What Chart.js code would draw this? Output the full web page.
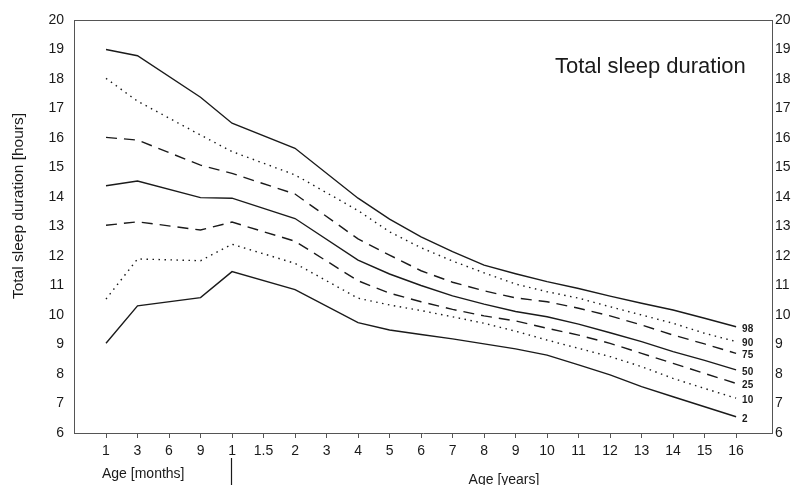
<!DOCTYPE html>
<html>
<head>
<meta charset="utf-8">
<script src="https://cdn.jsdelivr.net/npm/chart.js@4.4.0/dist/chart.umd.min.js"></script>
<style>
  html, body { margin: 0; padding: 0; background: #fff; }
</style>
</head>
<body>
<canvas id="chartSleep" width="795" height="485"></canvas>
<script>
// x categories: 1,3,6,9 months then 1 .. 16 years
const ageLabels = ["1", "3", "6", "9", "1", "1.5", "2", "3", "4", "5", "6", "7", "8",
                   "9", "10", "11", "12", "13", "14", "15", "16"];

// percentile curves (hours), null = no value at that age
const p98 = [19.0, 18.79, null, 17.38, 16.5, null, 15.65, null, 13.96, 13.25, 12.65, 12.15, 11.69, 11.4, 11.13, 10.9, 10.64, 10.4, 10.17, 9.89, 9.6];
const p90 = [18.02, 17.25, null, 16.1, 15.54, null, 14.75, null, 13.54, 12.82, 12.28, 11.83, 11.43, 11.05, 10.79, 10.57, 10.28, 10.0, 9.72, 9.38, 9.1];
const p75 = [16.02, 15.93, null, 15.08, 14.8, null, 14.1, null, 12.58, 12.03, 11.5, 11.11, 10.82, 10.58, 10.45, 10.23, 9.97, 9.66, 9.32, 9.02, 8.7];
const p50 = [14.38, 14.54, null, 13.98, 13.96, null, 13.27, null, 11.86, 11.39, 11.0, 10.65, 10.37, 10.12, 9.94, 9.69, 9.4, 9.1, 8.76, 8.46, 8.14];
const p25 = [13.04, 13.16, null, 12.88, 13.15, null, 12.5, null, 11.16, 10.74, 10.45, 10.19, 9.97, 9.8, 9.55, 9.32, 9.04, 8.7, 8.36, 8.02, 7.68];
const p10 = [10.54, 11.9, null, 11.84, 12.4, null, 11.75, null, 10.57, 10.34, 10.15, 9.94, 9.72, 9.45, 9.15, 8.87, 8.59, 8.25, 7.85, 7.51, 7.18];
const p2  = [9.04, 10.31, null, 10.59, 11.47, null, 10.86, null, 9.74, 9.49, 9.34, 9.19, 9.02, 8.85, 8.64, 8.31, 7.97, 7.57, 7.23, 6.89, 6.55];

const pctNames = ["98", "90", "75", "50", "25", "10", "2"];
const pctSeries = [p98, p90, p75, p50, p25, p10, p2];
const pctDash = [[], [1.5, 4.5], [11, 7], [], [11, 7], [1.5, 4.5], []];

const FONT = "'Liberation Sans', Arial, Helvetica, sans-serif";
const INK = "#1a1a1a";
const AXIS = "#555";

// frame top line, end labels, axis captions and title
const extras = {
    id: "extras",
    afterDatasetsDraw(chart) {
        const ctx = chart.ctx;
        const a = chart.chartArea;
        ctx.save();
        ctx.strokeStyle = AXIS;
        ctx.lineWidth = 1;
        ctx.beginPath();
        ctx.moveTo(a.left, a.top + 0.5);
        ctx.lineTo(a.right, a.top + 0.5);
        ctx.stroke();

        ctx.fillStyle = INK;
        ctx.font = "bold 10px " + FONT;
        ctx.textBaseline = "middle";
        ctx.textAlign = "left";
        chart.data.datasets.forEach((ds, i) => {
            const pts = chart.getDatasetMeta(i).data;
            const last = pts[pts.length - 1];
            ctx.fillText(pctNames[i], last.x + 6, last.y + 2);
        });

        ctx.font = "22px " + FONT;
        ctx.textBaseline = "alphabetic";
        ctx.fillText("Total sleep duration", 555, 73);

        ctx.font = "14px " + FONT;
        ctx.textBaseline = "middle";
        ctx.fillText("Age [months]", 102, 474);
        ctx.textAlign = "center";
        ctx.fillText("Age [years]", 504, 480);

        // y axis caption
        ctx.save();
        ctx.translate(19, 206);
        ctx.rotate(-Math.PI / 2);
        ctx.font = "15.5px " + FONT;
        ctx.fillText("Total sleep duration [hours]", 0, 0);
        ctx.restore();

        ctx.strokeStyle = INK;
        ctx.lineWidth = 1.2;
        ctx.beginPath();
        ctx.moveTo(231.5, 458);
        ctx.lineTo(231.5, 485);
        ctx.stroke();
        ctx.restore();
    }
};

new Chart(document.getElementById("chartSleep"), {
    type: "line",
    data: {
        datasets: pctSeries.map((s, i) => ({
            label: pctNames[i],
            data: s.map((v, k) => ({ x: k, y: v })),
            borderColor: INK,
            borderWidth: 1.4,
            borderDash: pctDash[i],
            pointRadius: 0,
            tension: 0,
            spanGaps: true
        }))
    },
    options: {
        responsive: false,
        devicePixelRatio: 1,
        animation: false,
        layout: { padding: { top: 20, left: 0, right: 0, bottom: 0 } },
        plugins: { legend: { display: false }, tooltip: { enabled: false } },
        scales: {
            x: {
                type: "linear",
                min: -1.016,
                max: 21.14,
                afterBuildTicks: (scale) => { scale.ticks = ageLabels.map((_, k) => ({ value: k })); },
                afterFit: (scale) => { scale.height = 52; },
                ticks: {
                    callback: (v) => ageLabels[v],
                    font: { family: FONT, size: 14 },
                    color: INK,
                    padding: 5,
                    maxRotation: 0,
                    autoSkip: false
                },
                grid: { drawOnChartArea: false, tickLength: 5, color: AXIS },
                border: { color: AXIS }
            },
            y: {
                position: "left",
                min: 6,
                max: 20,
                afterFit: (scale) => { scale.width = 74; },
                ticks: { stepSize: 1, font: { family: FONT, size: 14 }, color: INK, padding: 10 },
                grid: { drawOnChartArea: false, drawTicks: false },
                border: { color: AXIS }
            },
            y2: {
                position: "right",
                min: 6,
                max: 20,
                afterFit: (scale) => { scale.width = 23; },
                ticks: { stepSize: 1, font: { family: FONT, size: 14 }, color: INK, padding: 3 },
                grid: { drawOnChartArea: false, drawTicks: false },
                border: { color: AXIS }
            }
        }
    },
    plugins: [extras]
});
</script>
</body>
</html>
